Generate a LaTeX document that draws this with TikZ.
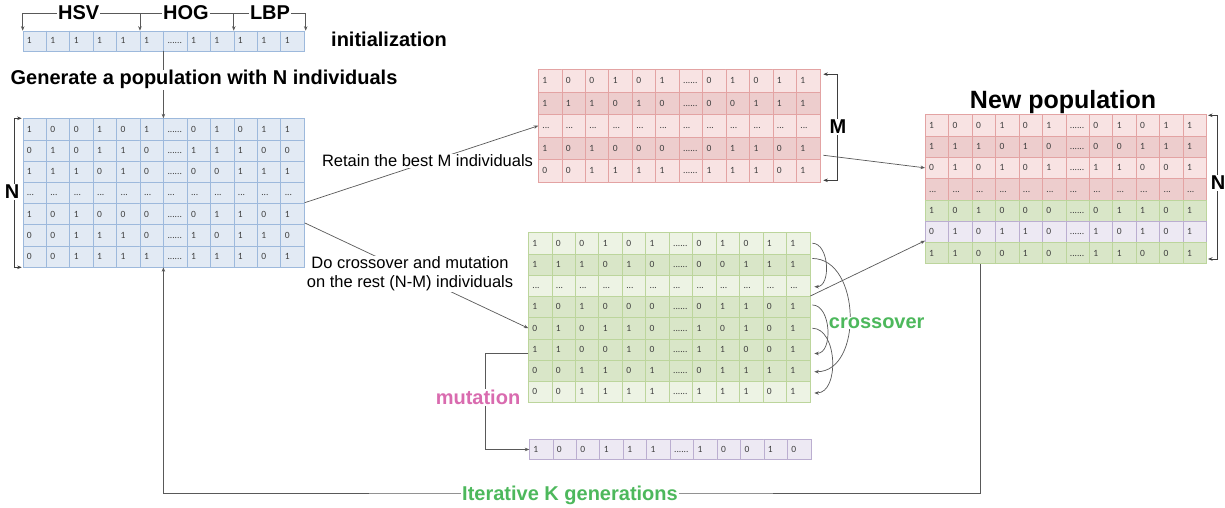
\documentclass[tikz,border=0pt]{standalone}
\usepackage{fontspec}
\setmainfont{Liberation Sans}
\newfontfamily\cellfont{Carlito}
\usetikzlibrary{arrows.meta}

\definecolor{bluefill}{HTML}{E2EAF4}
\definecolor{blueline}{HTML}{9DB9DC}
\definecolor{redlightfill}{HTML}{F8E3E3}
\definecolor{reddarkfill}{HTML}{EDCDCD}
\definecolor{redline}{HTML}{E3A3A3}
\definecolor{greenlightfill}{HTML}{EDF3E4}
\definecolor{greendarkfill}{HTML}{D9E6C8}
\definecolor{greenline}{HTML}{BCD59C}
\definecolor{purplefill}{HTML}{EDE9F3}
\definecolor{purpleline}{HTML}{BBAED0}
\definecolor{linkgray}{HTML}{595959}
\definecolor{cellgray}{HTML}{404040}
\definecolor{mutpink}{HTML}{D96BAF}
\definecolor{crossgreen}{HTML}{4DB85C}

\tikzset{
  cellrow/.style={rectangle,inner sep=0pt,minimum width=281.4pt,line width=0.6pt},
  bluecell/.style={fill=bluefill,draw=blueline},
  redlight/.style={fill=redlightfill,draw=redline},
  reddark/.style={fill=reddarkfill,draw=redline},
  greenlight/.style={fill=greenlightfill,draw=greenline},
  greendark/.style={fill=greendarkfill,draw=greenline},
  purplecell/.style={fill=purplefill,draw=purpleline},
  celltext/.style={font=\cellfont\fontsize{9.5}{10}\selectfont,text=cellgray,
    inner sep=0pt,anchor=west,text height=6pt,text depth=0pt},
  link/.style={draw=linkgray,line width=0.7pt,-{Stealth[length=4.5pt,width=3.5pt]}},
  plainline/.style={draw=linkgray,line width=0.7pt},
  bracket/.style={draw=linkgray!70!black,line width=0.9pt,
    {Stealth[length=4.5pt,width=3.5pt]}-{Stealth[length=4.5pt,width=3.5pt]}},
  title/.style={font=\bfseries\fontsize{20}{24}\selectfont,inner sep=1pt},
  note/.style={font=\fontsize{16.5}{19}\selectfont,inner sep=1pt,fill=white,align=center},
  cutlabel/.style={title,fill=white},
}

\newcommand{\smalldots}{...}
\newcommand{\widedots}{......}
%% one individual: name, north west corner, row height, style, genes
\newcommand{\poprow}[5]{%
  \node[cellrow,#4,minimum height=#3,anchor=north west] (#1) at #2 {};
  \foreach \v [count=\i] in {#5}
    \node[celltext] at ([xshift={\i*23.45pt-19.5pt}]#1.west) {\v};
  \foreach \i in {1,...,11}
    \draw[#4] ([xshift=\i*23.45pt]#1.north west) -- ([xshift=\i*23.45pt]#1.south west);
}

\begin{document}
\begin{tikzpicture}[x=1pt,y=-1pt]
  \fill[white] (0,0) rectangle (1225,508);
  \useasboundingbox (0,0) rectangle (1225,508);

  %% initialization string
  \poprow{init}{(22.7,30.7)}{20pt}{bluecell}{1,1,1,1,1,1,\widedots,1,1,1,1,1}

  %% population with N individuals
  \poprow{blue1}{(22.7,118.3)}{21.2pt}{bluecell}{1,0,0,1,0,1,\widedots,0,1,0,1,1}
  \poprow{blue2}{(22.7,139.5)}{21.2pt}{bluecell}{0,1,0,1,1,0,\widedots,1,1,1,0,0}
  \poprow{blue3}{(22.7,160.7)}{21.2pt}{bluecell}{1,1,1,0,1,0,\widedots,0,0,1,1,1}
  \poprow{blue4}{(22.7,181.9)}{21.2pt}{bluecell}{\smalldots,\smalldots,\smalldots,\smalldots,\smalldots,\smalldots,\smalldots,\smalldots,\smalldots,\smalldots,\smalldots,\smalldots}
  \poprow{blue5}{(22.7,203.1)}{21.2pt}{bluecell}{1,0,1,0,0,0,\widedots,0,1,1,0,1}
  \poprow{blue6}{(22.7,224.3)}{21.2pt}{bluecell}{0,0,1,1,1,0,\widedots,1,0,1,1,0}
  \poprow{blue7}{(22.7,245.5)}{21.2pt}{bluecell}{0,0,1,1,1,1,\widedots,1,1,1,0,1}

  %% best M individuals
  \poprow{red1}{(538.3,69.2)}{22.5pt}{redlight}{1,0,0,1,0,1,\widedots,0,1,0,1,1}
  \poprow{red2}{(538.3,91.7)}{22.5pt}{reddark}{1,1,1,0,1,0,\widedots,0,0,1,1,1}
  \poprow{red3}{(538.3,114.2)}{22.5pt}{redlight}{\smalldots,\smalldots,\smalldots,\smalldots,\smalldots,\smalldots,\smalldots,\smalldots,\smalldots,\smalldots,\smalldots,\smalldots}
  \poprow{red4}{(538.3,136.7)}{22.5pt}{reddark}{1,0,1,0,0,0,\widedots,0,1,1,0,1}
  \poprow{red5}{(538.3,159.2)}{22.5pt}{redlight}{0,0,1,1,1,1,\widedots,1,1,1,0,1}

  %% new population
  \poprow{new1}{(925,114.3)}{21.3pt}{redlight}{1,0,0,1,0,1,\widedots,0,1,0,1,1}
  \poprow{new2}{(925,135.6)}{21.3pt}{reddark}{1,1,1,0,1,0,\widedots,0,0,1,1,1}
  \poprow{new3}{(925,156.9)}{21.3pt}{redlight}{0,1,0,1,0,1,\widedots,1,1,0,0,1}
  \poprow{new4}{(925,178.2)}{21.3pt}{reddark}{\smalldots,\smalldots,\smalldots,\smalldots,\smalldots,\smalldots,\smalldots,\smalldots,\smalldots,\smalldots,\smalldots,\smalldots}
  \poprow{new5}{(925,199.5)}{21.3pt}{greendark}{1,0,1,0,0,0,\widedots,0,1,1,0,1}
  \poprow{new6}{(925,220.8)}{21.3pt}{purplecell}{0,1,0,1,1,0,\widedots,1,0,1,0,1}
  \poprow{new7}{(925,242.1)}{21.3pt}{greendark}{1,1,0,0,1,0,\widedots,1,1,0,0,1}

  %% the rest (N-M) individuals
  \poprow{green1}{(528.3,232.3)}{21.25pt}{greenlight}{1,0,0,1,0,1,\widedots,0,1,0,1,1}
  \poprow{green2}{(528.3,253.55)}{21.25pt}{greendark}{1,1,1,0,1,0,\widedots,0,0,1,1,1}
  \poprow{green3}{(528.3,274.8)}{21.25pt}{greenlight}{\smalldots,\smalldots,\smalldots,\smalldots,\smalldots,\smalldots,\smalldots,\smalldots,\smalldots,\smalldots,\smalldots,\smalldots}
  \poprow{green4}{(528.3,296.05)}{21.25pt}{greendark}{1,0,1,0,0,0,\widedots,0,1,1,0,1}
  \poprow{green5}{(528.3,317.3)}{21.25pt}{greendark}{0,1,0,1,1,0,\widedots,1,0,1,0,1}
  \poprow{green6}{(528.3,338.55)}{21.25pt}{greendark}{1,1,0,0,1,0,\widedots,1,1,0,0,1}
  \poprow{green7}{(528.3,359.8)}{21.25pt}{greendark}{0,0,1,1,0,1,\widedots,0,1,1,1,1}
  \poprow{green8}{(528.3,381.05)}{21.25pt}{greenlight}{0,0,1,1,1,1,\widedots,1,1,1,0,1}

  %% mutated individual
  \poprow{mut}{(529.3,439)}{20.3pt}{purplecell}{1,0,0,1,1,1,\widedots,1,0,0,1,0}

  %% feature brackets
  \coordinate (hsvA) at ([yshift=17.4pt]init.north west);
  \coordinate (hogA) at ([xshift=117.25pt,yshift=17.4pt]init.north west);
  \coordinate (lbpA) at ([xshift=211.05pt,yshift=17.4pt]init.north west);
  \coordinate (endA) at ([xshift=1pt,yshift=17.4pt]init.north east);
  \draw[plainline] (hsvA) -- (endA);
  \draw[link] (hsvA) -- (hsvA |- init.north);
  \draw[link] (hogA) -- (hogA |- init.north);
  \draw[link] (lbpA) -- (lbpA |- init.north);
  \draw[link] (endA) -- (endA |- init.north);
  \node[cutlabel,anchor=base] (hsv) at (78.7,19.3) {HSV};
  \node[cutlabel,anchor=base] (hog) at (186,19.3) {HOG};
  \node[cutlabel,anchor=base] (lbp) at (270,19.3) {LBP};
  \node[title,anchor=base west] (initlbl) at (330,46.7) {initialization};

  %% init -> population
  \draw[link] ([xshift=140.7pt]init.south west) -- ([xshift=140.7pt]blue1.north west);
  \node[cutlabel,anchor=base] (genlbl) at (204,85) {Generate a population with N individuals};

  %% size brackets
  \draw[bracket] ([xshift=-1pt]blue1.north west) -- ++(-7.7,0) |- ([xshift=-1pt]blue7.south west);
  \node[cutlabel] (nleft) at (12,192) {N};
  \draw[bracket] ([xshift=3pt,yshift=-5pt]red1.north east) -- ++(14,0) |- ([xshift=3pt,yshift=2pt]red5.south east);
  \node[cutlabel] (mlbl) at (838,127) {M};
  \draw[bracket] ([xshift=1pt,yshift=-1pt]new1.north east) -- ++(9,0) |- ([xshift=1pt,yshift=5pt]new7.south east);
  \node[cutlabel] (nright) at (1218,183) {N};
  \node[title,font=\bfseries\fontsize{25}{30}\selectfont,anchor=base] (newlbl) at (1063,109) {New population};

  %% selection and crossover paths
  \draw[link] ([yshift=1pt]blue4.south east) -- (red3.west);
  \node[note] (retain) at (427.5,161) {Retain the best M individuals};
  \draw[link] ([yshift=2pt]blue5.south east) -- (green5.west);
  \node[note] (rest) at (410,274) {Do crossover and mutation\\on the rest (N-M) individuals};
  \draw[link] ([xshift=3pt,yshift=-7pt]red4.east) -- (new3.west);
  \draw[link] (green4.north east) -- ([yshift=2pt]new6.south west);

  %% mutation
  \draw[link] ([yshift=-4pt]green6.west) -- ++(-42.6,0) |- (mut.west);
  \node[cutlabel,text=mutpink] (mutlbl) at (478,397.5) {mutation};

  %% crossover pairs
  \draw[link] ([xshift=2pt]green1.east) to[out=0,in=0] ([xshift=4pt,yshift=-1pt]green3.east);
  \draw[link] ([xshift=2pt,yshift=6pt]green2.east) to[out=0,in=0,looseness=1.1] ([xshift=4pt,yshift=-1pt]green7.east);
  \node[cutlabel,text=crossgreen] (crosslbl) at (876.7,323) {crossover};
  \draw[link] ([xshift=2pt,yshift=2pt]green4.east) to[out=0,in=0] ([xshift=4pt,yshift=-4pt]green6.east);
  \draw[link] ([xshift=2pt]green5.east) to[out=0,in=0] ([xshift=4pt,yshift=-1pt]green8.east);

  %% next generation loop
  \coordinate (loopout) at ([xshift=55pt]new7.south west);
  \coordinate (loopin) at ([xshift=140.7pt]blue7.south west);
  \coordinate (loopbot) at (570,493);
  \draw[link] (loopout) |- (loopbot) -| (loopin);
  \node[cutlabel,text=crossgreen,anchor=base] (iterlbl) at (570,500) {Iterative K generations};
\end{tikzpicture}
\end{document}
